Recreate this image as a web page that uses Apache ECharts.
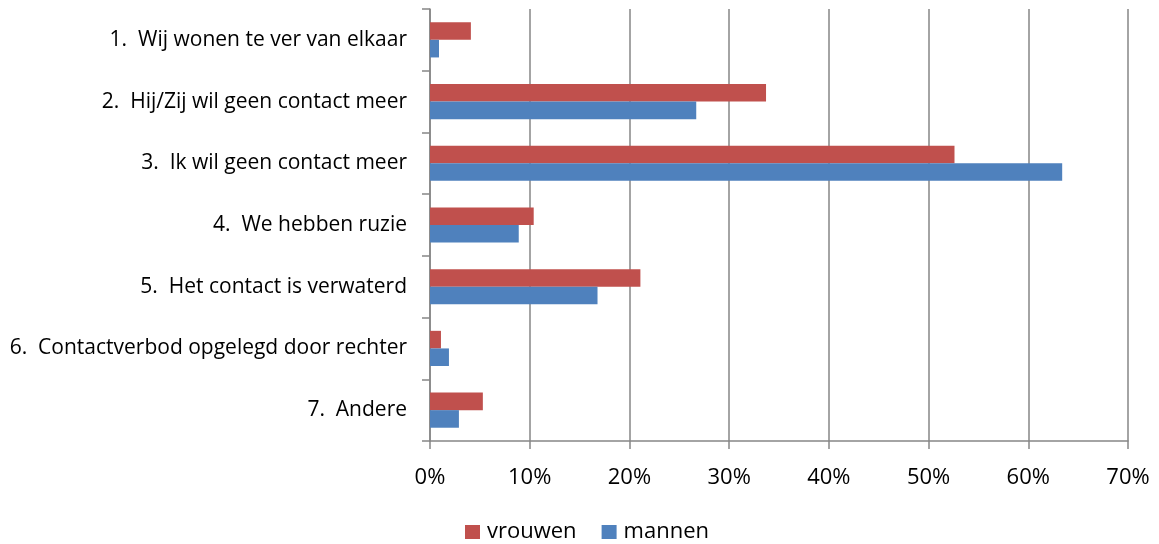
<!DOCTYPE html>
<html>
<head>
<meta charset="utf-8">
<script src="https://cdn.jsdelivr.net/npm/echarts@6/dist/echarts.min.js"></script>
<style>
  html, body { margin: 0; padding: 0; background: #fff; }
  #chart { width: 1159px; height: 544px; }
</style>
</head>
<body>
<div id="chart"></div>
<script>
  // reasons, top to bottom
  const categories = [
    '1.  Wij wonen te ver van elkaar',
    '2.  Hij/Zij wil geen contact meer',
    '3.  Ik wil geen contact meer',
    '4.  We hebben ruzie',
    '5.  Het contact is verwaterd',
    '6.  Contactverbod opgelegd door rechter',
    '7.  Andere'
  ];
  const vrouwen = [4.1, 33.7, 52.6, 10.4, 21.1, 1.1, 5.3];
  const mannen = [0.9, 26.7, 63.4, 8.9, 16.8, 1.9, 2.9];

  const font = '"Open Sans", Lato, sans-serif';
  const gray = '#868686';

  let myChart = echarts.init(document.getElementById('chart'));
  let option = {
    animation: false,
    textStyle: { fontFamily: font },
    legend: {
      data: ['vrouwen', 'mannen'],
      bottom: 1,
      left: 465,
      padding: 0,
      itemWidth: 15,
      itemHeight: 14,
      itemGap: 25,
      icon: 'rect',
      textStyle: { fontSize: 22, color: '#000', fontFamily: font, padding: [0, 0, 0, 2] }
    },
    grid: {
      left: 430,
      top: 9,
      width: 698,
      height: 432,
      containLabel: false
    },
    xAxis: {
      type: 'value',
      min: 0,
      max: 70,
      interval: 10,
      axisLine: { show: true, lineStyle: { color: gray, width: 1.5 } },
      axisTick: { show: true, length: 8, inside: false, lineStyle: { color: gray, width: 1.5 } },
      splitLine: { show: true, lineStyle: { color: gray, width: 1.5 } },
      axisLabel: {
        margin: 26,
        fontSize: 22,
        color: '#000',
        fontFamily: font,
        formatter: v => v + '%'
      }
    },
    yAxis: {
      type: 'category',
      inverse: true,
      data: categories,
      axisLine: { show: true, lineStyle: { color: gray, width: 1.5 } },
      axisTick: { show: true, length: 8, lineStyle: { color: gray, width: 1.5 } },
      axisLabel: {
        margin: 23,
        fontSize: 21,
        color: '#000',
        fontFamily: font
      }
    },
    series: [
      {
        name: 'vrouwen',
        type: 'bar',
        data: vrouwen,
        itemStyle: { color: '#C0504D' },
        barGap: '0%',
        barCategoryGap: '43%'
      },
      {
        name: 'mannen',
        type: 'bar',
        data: mannen,
        itemStyle: { color: '#4F81BD' },
        barGap: '0%',
        barCategoryGap: '43%'
      }
    ]
  };
  myChart.setOption(option);
</script>
</body>
</html>
